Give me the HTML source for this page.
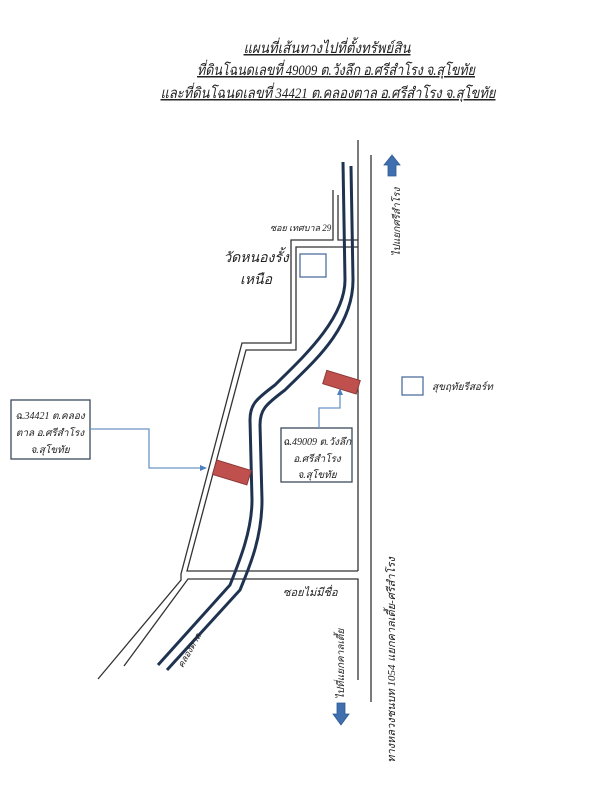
<!DOCTYPE html>
<html><head><meta charset="utf-8"><style>
html,body{margin:0;padding:0;background:#fff;}
svg{display:block;}
text{font-family:"Liberation Serif","DejaVu Serif",serif;font-style:italic;fill:#222;}
</style></head><body>
<svg width="600" height="800" viewBox="0 0 600 800" xmlns="http://www.w3.org/2000/svg">
<g text-anchor="middle" font-size="15">
<text x="327" y="53" text-decoration="underline" textLength="167" lengthAdjust="spacingAndGlyphs">แผนที่เส้นทางไปที่ตั้งทรัพย์สิน</text>
<text x="336" y="75" text-decoration="underline" textLength="278" lengthAdjust="spacingAndGlyphs">ที่ดินโฉนดเลขที่ 49009 ต.วังลึก อ.ศรีสำโรง จ.สุโขทัย</text>
<text x="328" y="98" text-decoration="underline" textLength="335" lengthAdjust="spacingAndGlyphs">และที่ดินโฉนดเลขที่ 34421 ต.คลองตาล อ.ศรีสำโรง จ.สุโขทัย</text>
</g>
<g fill="none" stroke="#333" stroke-width="1.3">
<line x1="358" y1="140" x2="358" y2="571"/>
<line x1="371" y1="155" x2="371" y2="702"/>
<polyline points="333,190 333,240 291,240 291,343 242,343 181,574 181,580 98,679"/>
<polyline points="338,195 338,240 358,240"/>
<polyline points="358,247 296,247 296,350 246,350 187,571 358,571"/>
<polyline points="124,666 188,579 358,579 358,680"/>
</g>
<g fill="none" stroke="#1f3350" stroke-width="3">
<path d="M343,162 L345,280 C345,320 300,360 275,385 C255,400 250,405 250,420 L252,500 C252,530 240,560 230,585 L158,665"/>
<path d="M351,166 L353,280 C353,330 310,365 285,390 C265,405 260,410 260,425 L262,500 C262,540 248,570 240,590 L167,670"/>
</g>
<rect x="324" y="375" width="35" height="14" fill="#c0504d" stroke="#8c3a38" transform="rotate(17 341 382)"/>
<rect x="214" y="465" width="36" height="15" fill="#c0504d" stroke="#8c3a38" transform="rotate(17 232 472)"/>
<rect x="300" y="254" width="26" height="23" fill="none" stroke="#4f6f9f" stroke-width="1.3"/>
<rect x="402" y="377" width="21" height="18" fill="none" stroke="#4f6f9f" stroke-width="1.3"/>
<rect x="11" y="400" width="79" height="59" fill="#fff" stroke="#3a4a5c" stroke-width="1.3"/>
<rect x="281" y="428" width="71" height="54" fill="#fff" stroke="#3a4a5c" stroke-width="1.3"/>
<g fill="none" stroke="#6a94c8" stroke-width="1.3">
<polyline points="90,429 149,429 149,468 203,468"/>
<polyline points="319,428 319,408 340,408 340,392"/>
</g>
<polygon points="207,468 200,465 200,471" fill="#4f81bd"/>
<polygon points="340,388 337,395 343,395" fill="#4f81bd"/>
<polygon points="392,155 384,165 388,165 388,176 396,176 396,165 400,165" fill="#3f6fae" stroke="#2f5a90" stroke-width="0.8"/>
<polygon points="341,725 333,714 337,714 337,703 345,703 345,714 349,714" fill="#3f6fae" stroke="#2f5a90" stroke-width="0.8"/>
<g font-size="10" text-anchor="middle">
<text x="50" y="419">ฉ.34421 ต.คลอง</text>
<text x="50" y="436">ตาล อ.ศรีสำโรง</text>
<text x="50" y="453">จ.สุโขทัย</text>
<text x="317" y="445">ฉ.49009 ต.วังลึก</text>
<text x="317" y="462">อ.ศรีสำโรง</text>
<text x="317" y="478">จ.สุโขทัย</text>
</g>
<text x="432" y="390" font-size="10">สุขฤทัยรีสอร์ท</text>
<text x="270" y="231" font-size="9">ซอย เทศบาล 29</text>
<text x="256" y="262" font-size="14" text-anchor="middle">วัดหนองรั้ง</text>
<text x="256" y="284" font-size="14" text-anchor="middle">เหนือ</text>
<text x="283" y="596" font-size="11">ซอยไม่มีชื่อ</text>
<text x="0" y="0" font-size="9" text-anchor="middle" transform="translate(192,652) rotate(-60)">คลองตาล</text>
<text x="0" y="0" font-size="10" text-anchor="middle" transform="translate(344,664) rotate(-90)">ไปที่แยกคาลเตี้ย</text>
<text x="0" y="0" font-size="11" text-anchor="middle" transform="translate(395,660) rotate(-90)">ทางหลวงชนบท 1054 แยกคาลเตี้ย-ศรีสำโรง</text>
<text x="0" y="0" font-size="10" text-anchor="middle" transform="translate(400,222) rotate(-90)">ไปแยกศรีสำโรง</text>
</svg>
</body></html>
